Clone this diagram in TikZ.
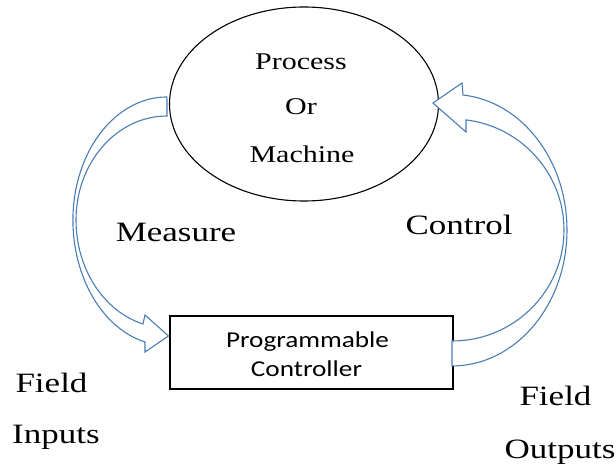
\documentclass[tikz,border=0pt]{standalone}
\usepackage{graphicx}
\usepackage{fontspec}
\setmainfont{Liberation Serif}
\newfontfamily\calib{Carlito}
\usetikzlibrary{shapes.geometric}
\definecolor{arrowblue}{HTML}{4A7DB5}
\newcommand{\widetext}[2][1.25]{\scalebox{#1}[1]{#2}}
\tikzset{
  lbl/.style={anchor=base, inner sep=0pt},
  bigserif/.style={lbl, font=\fontsize{28}{30}\selectfont},
  midserif/.style={lbl, font=\fontsize{24}{26}\selectfont},
  sanslbl/.style={lbl, font=\calib\fontsize{22.7}{24}\selectfont},
  blockarrow/.style={draw=arrowblue, line width=1.1pt, line join=miter, fill=white},
}
\begin{document}
\begin{tikzpicture}[x=1pt, y=-1pt]
\useasboundingbox (0,0) rectangle (616,465);

% process and controller
\node[draw, ellipse, line width=1.1pt, minimum width=269pt, minimum height=194pt, inner sep=0pt] (proc) at (304,104) {};
\node[draw, rectangle, line width=1.2pt, minimum width=283pt, minimum height=73pt, inner sep=0pt] (plc) at (311.5,352.5) {};

\node[midserif] (t1) at (301,70) {\widetext{Process}};
\node[midserif] (t2) at (301,115) {\widetext{Or}};
\node[midserif] (t3) at (302,163) {\widetext{Machine}};

\node[sanslbl] (p1) at (307.5,347) {\widetext[1.2]{Programmable}};
\node[sanslbl] (p2) at (306.5,376) {\widetext[1.2]{Controller}};

% measuring arrow: process -> controller
\coordinate (minA) at (167,116);
\coordinate (moutA) at (145,342);
\path[blockarrow]
  (minA) arc[start angle=270, end angle=180, x radius=91, y radius=104]
         arc[start angle=180, end angle=105.3, x radius=91, y radius=107.8]
  -- (145,315) -- (168.5,336) -- (145,352) -- (moutA)
  arc[start angle=103.5, end angle=180, x radius=94, y radius=125.5]
  arc[start angle=180, end angle=270, x radius=94, y radius=123]
  -- cycle;

% control arrow: controller -> process
\coordinate (cinA) at (452,341);
\coordinate (coutA) at (463,95);
\path[blockarrow]
  (cinA) arc[start angle=90, end angle=0, x radius=112, y radius=111]
         arc[start angle=0, end angle=-82.8, x radius=112, y radius=111]
  -- (466,132) -- (433,103) -- (462,83) -- (coutA)
  arc[start angle=-84.5, end angle=0, x radius=115, y radius=135.6]
  arc[start angle=0, end angle=90, x radius=115, y radius=136]
  -- cycle;

% labels
\node[bigserif] (meas) at (176,242) {\widetext{Measure}};
\node[bigserif] (ctrl) at (459,235) {\widetext{Control}};
\node[bigserif] (fi1) at (51.5,392) {\widetext{Field}};
\node[bigserif] (fi2) at (56,443) {\widetext{Inputs}};
\node[bigserif] (fo1) at (555.5,405) {\widetext{Field}};
\node[bigserif] (fo2) at (560,458) {\widetext{Outputs}};
\end{tikzpicture}
\end{document}
